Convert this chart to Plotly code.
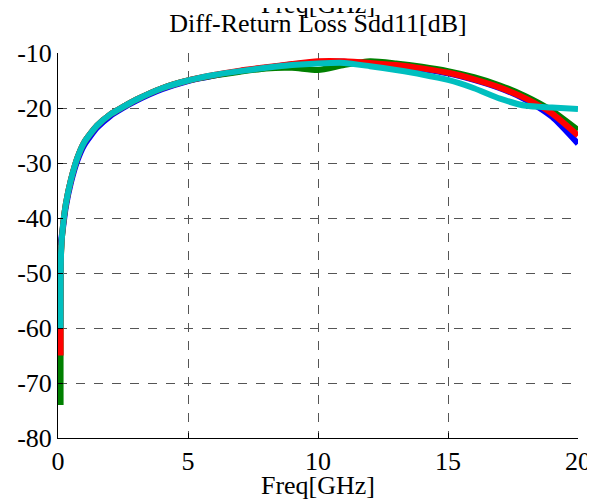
"""Diff-Return Loss Sdd11 chart."""

import plotly.graph_objects as go

FONT = "Liberation Serif, Times New Roman, serif"

freq = [0.1, 0.12, 0.2, 0.3, 0.5, 0.75, 1, 1.5, 2, 2.5, 3, 4, 5, 6, 7, 8,
        9, 10, 11, 12, 13, 14, 15, 16, 17, 18, 19, 20]

sdd11_blue = [-45, -44, -41.5, -38, -33.5, -29.5, -26.8, -23.6, -21.5, -20.0,
              -18.7, -16.6, -15.1, -14.1, -13.3, -12.7, -12.1, -11.7, -11.6,
              -11.9, -12.3, -12.9, -13.7, -14.9, -16.4, -18.5, -21.6, -26.5]
sdd11_green = [-74, -46, -41, -37.5, -33, -29, -26.3, -23.2, -21.2, -19.8,
               -18.5, -16.4, -15.0, -14.1, -13.4, -12.8, -12.7, -13.1, -12.2,
               -11.5, -11.9, -12.5, -13.3, -14.4, -15.9, -17.9, -20.5, -24.0]
sdd11_red = [-65, -46, -41, -37.5, -33, -29, -26.3, -23.2, -21.2, -19.8,
             -18.5, -16.4, -15.0, -14.0, -13.2, -12.6, -12.0, -11.5, -11.5,
             -11.8, -12.2, -12.8, -13.6, -14.8, -16.3, -18.3, -21.0, -25.0]
sdd11_cyan = [-60, -46, -41, -37.5, -33, -29, -26.3, -23.2, -21.2, -19.8,
              -18.5, -16.4, -15.0, -14.0, -13.3, -12.7, -12.2, -11.9, -11.8,
              -12.4, -13.1, -13.9, -14.9, -16.4, -18.3, -19.6, -19.9, -20.2]

series = [
    ("blue", sdd11_blue, "#0000FF"),
    ("green", sdd11_green, "#008000"),
    ("red", sdd11_red, "#FF0000"),
    ("cyan", sdd11_cyan, "#00BFBF"),
]

x_ticks = [0, 5, 10, 15, 20]
y_ticks = [-80, -70, -60, -50, -40, -30, -20, -10]
# the original uses plain hyphens, not unicode minus signs
y_tick_text = [str(v) for v in y_ticks]

fig = go.Figure()
for name, vals, color in series:
    fig.add_trace(go.Scatter(
        x=freq, y=vals, mode="lines", name=name,
        line=dict(color=color, width=6, shape="spline", smoothing=0.6),
    ))

tick_font = dict(family=FONT, size=26, color="black")
axis_style = dict(
    showgrid=True, gridcolor="#555555", griddash="dash", gridwidth=1,
    showline=True, linecolor="black", linewidth=1,
    ticks="inside", ticklen=5, tickcolor="black",
    zeroline=False, tickfont=tick_font, automargin=False,
)

fig.update_xaxes(range=[0, 20], tickvals=x_ticks,
                 title=dict(text="Freq[GHz]", font=tick_font, standoff=0),
                 **axis_style)
fig.update_yaxes(range=[-80, -10], tickvals=y_ticks, ticktext=y_tick_text,
                 ticklabelstandoff=0, **axis_style)

# label left over from the plot above, cut off at the top of the page
fig.add_annotation(text="Freq[GHz]", xref="paper", yref="paper", x=0.5, y=1.125,
                   yanchor="middle", showarrow=False, font=tick_font)

# the page body adds an 8px margin, so the figure is 8px smaller on each side
fig.update_layout(
    width=587, height=492,
    title=dict(text="Diff-Return Loss Sdd11[dB]", x=0.5, xref="paper",
               xanchor="center", y=0.9695, yanchor="middle", font=tick_font),
    showlegend=False,
    plot_bgcolor="white", paper_bgcolor="white",
    margin=dict(l=50, r=17, t=45, b=62),
)

fig.write_html("out.html")
